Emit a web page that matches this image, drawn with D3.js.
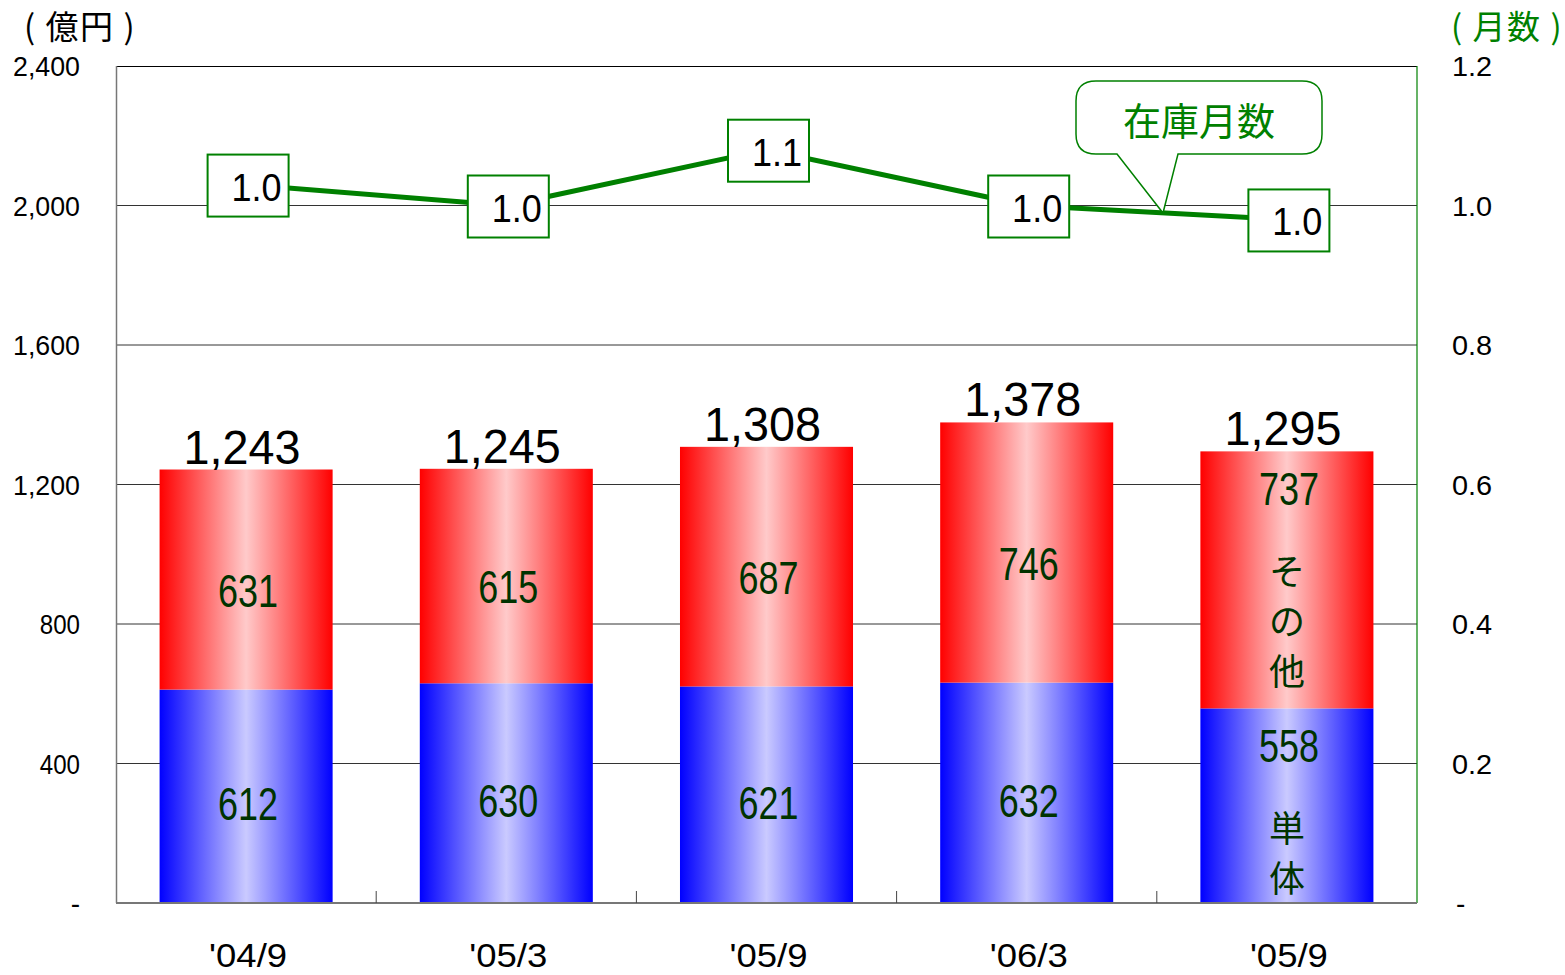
<!DOCTYPE html>
<html>
<head>
<meta charset="utf-8">
<script src="https://cdn.jsdelivr.net/npm/d3@7"></script>
<style>
  body { margin: 0; background: #fff; }
  svg { display: block; }
</style>
</head>
<body>
<div id="chart"></div>
<script>
// chart data
const categories = ["'04/9", "'05/3", "'05/9", "'06/3", "'05/9"];
const tantai = [612, 630, 621, 632, 558];      // 単体 (blue)
const sonota = [631, 615, 687, 746, 737];      // その他 (red)
const totals = [1243, 1245, 1308, 1378, 1295];
const months = [1.03, 1.00, 1.08, 1.00, 0.98]; // 在庫月数 (line)
const monthLabels = ["1.0", "1.0", "1.1", "1.0", "1.0"];
const leftTicks = [0, 400, 800, 1200, 1600, 2000, 2400];
const leftTickLabels = ["-", "400", "800", "1,200", "1,600", "2,000", "2,400"];
const rightTicks = [0, 0.2, 0.4, 0.6, 0.8, 1.0, 1.2];
const rightTickLabels = ["-", "0.2", "0.4", "0.6", "0.8", "1.0", "1.2"];

//canvas settings
const width = 1565;
const height = 975;
const plot = {left: 116, right: 1417, top: 66, bottom: 903};

const numFont = "'Liberation Sans', Arial, sans-serif";
const jpFont = "'Noto Sans CJK JP', 'Noto Sans', sans-serif";
const green = "#008000";
const darkGreen = "#003300";

const svg = d3.select("#chart")
  .append("svg")
  .attr("width", width)
  .attr("height", height);

//narrow half-width look: squeeze each label to a fixed width per character
function squeeze(sel, perChar) {
  sel.each(function() {
    const t = d3.select(this).text();
    if (t.length > 1) {
      d3.select(this)
        .attr("textLength", t.length * perChar)
        .attr("lengthAdjust", "spacingAndGlyphs");
    }
  });
}

//scales
const x = d3.scaleBand()
  .domain(d3.range(categories.length))
  .range([plot.left, plot.right])
  .paddingInner(0.335)
  .paddingOuter(0.1675);
const step = x.step();

const yL = d3.scaleLinear().domain([0, 2400]).range([plot.bottom, plot.top]);
const yR = d3.scaleLinear().domain([0, 1.2]).range([plot.bottom, plot.top]);

//gradients for the bars
const defs = svg.append("defs");
function addGradient(id, edge, mid) {
  const g = defs.append("linearGradient")
    .attr("id", id)
    .attr("x1", "0%").attr("x2", "100%")
    .attr("y1", "0%").attr("y2", "0%");
  g.append("stop").attr("offset", "0%").attr("stop-color", edge);
  g.append("stop").attr("offset", "50%").attr("stop-color", mid);
  g.append("stop").attr("offset", "100%").attr("stop-color", edge);
}
addGradient("redGrad", "#ff0000", "#ffcaca");
addGradient("blueGrad", "#0000ff", "#cacaff");

// --------------------
// GRID + AXES
// --------------------
svg.selectAll(".grid")
  .data(leftTicks.filter(d => d > 0 && d < 2400))
  .enter()
  .append("line")
  .attr("class", "grid")
  .attr("x1", plot.left).attr("x2", plot.right)
  .attr("y1", d => yL(d)).attr("y2", d => yL(d))
  .attr("stroke", "#333")
  .attr("stroke-width", 1);

//top border
svg.append("line")
  .attr("x1", plot.left).attr("x2", plot.right)
  .attr("y1", plot.top + 0.5).attr("y2", plot.top + 0.5)
  .attr("stroke", "#000");

//left axis line
svg.append("line")
  .attr("x1", plot.left + 0.5).attr("x2", plot.left + 0.5)
  .attr("y1", plot.top).attr("y2", plot.bottom)
  .attr("stroke", "#777")
  .attr("stroke-width", 1.5);

//right axis (green)
svg.append("line")
  .attr("x1", plot.right).attr("x2", plot.right)
  .attr("y1", plot.top).attr("y2", plot.bottom)
  .attr("stroke", green)
  .attr("stroke-width", 1.2);

//left tick labels
svg.selectAll(".lt")
  .data(leftTicks)
  .enter()
  .append("text")
  .attr("class", "lt")
  .attr("x", 80)
  .attr("y", d => yL(d) + 10)
  .attr("text-anchor", "end")
  .attr("font-family", numFont)
  .attr("font-size", "28px")
  .attr("fill", "#000")
  .text((d, i) => leftTickLabels[i])
  .call(squeeze, 13.4);

//right tick labels
svg.selectAll(".rt")
  .data(rightTicks)
  .enter()
  .append("text")
  .attr("class", "rt")
  .attr("x", d => d === 0 ? 1456 : 1452)
  .attr("y", d => yR(d) + 10)
  .attr("font-family", numFont)
  .attr("font-size", "28px")
  .attr("fill", "#000")
  .text((d, i) => rightTickLabels[i])
  .call(squeeze, 13.4);

//axis titles
svg.append("text")
  .attr("x", 24).attr("y", 39)
  .attr("font-family", jpFont)
  .attr("font-size", "33px")
  .attr("letter-spacing", "1.5px")
  .attr("fill", "#000")
  .text("( 億円 )");

svg.append("text")
  .attr("x", 1451).attr("y", 39)
  .attr("font-family", jpFont)
  .attr("font-size", "33px")
  .attr("letter-spacing", "1.5px")
  .attr("fill", green)
  .text("( 月数 )");

// --------------------
// BARS
// --------------------
svg.selectAll(".blueBar")
  .data(tantai)
  .enter()
  .append("rect")
  .attr("class", "blueBar")
  .attr("x", (d, i) => x(i))
  .attr("y", d => yL(d))
  .attr("width", x.bandwidth())
  .attr("height", d => yL(0) - yL(d))
  .attr("fill", "url(#blueGrad)");

svg.selectAll(".redBar")
  .data(sonota)
  .enter()
  .append("rect")
  .attr("class", "redBar")
  .attr("x", (d, i) => x(i))
  .attr("y", (d, i) => yL(tantai[i] + d))
  .attr("width", x.bandwidth())
  .attr("height", (d, i) => yL(tantai[i]) - yL(tantai[i] + d))
  .attr("fill", "url(#redGrad)");

//bottom axis line
svg.append("line")
  .attr("x1", plot.left).attr("x2", plot.right)
  .attr("y1", plot.bottom).attr("y2", plot.bottom)
  .attr("stroke", "#777")
  .attr("stroke-width", 2);

//category ticks (inside, between categories)
svg.selectAll(".ct")
  .data(d3.range(1, categories.length))
  .enter()
  .append("line")
  .attr("class", "ct")
  .attr("x1", d => plot.left + d * step).attr("x2", d => plot.left + d * step)
  .attr("y1", plot.bottom).attr("y2", plot.bottom - 12)
  .attr("stroke", "#444");

//category labels
svg.selectAll(".cat")
  .data(categories)
  .enter()
  .append("text")
  .attr("class", "cat")
  .attr("x", (d, i) => x(i) + x.bandwidth() / 2 + 2)
  .attr("y", 967)
  .attr("text-anchor", "middle")
  .attr("font-family", numFont)
  .attr("font-size", "34px")
  .attr("fill", "#000")
  .text(d => d)
  .call(squeeze, 15.6);

//totals above bars
svg.selectAll(".tot")
  .data(totals)
  .enter()
  .append("text")
  .attr("class", "tot")
  .attr("x", (d, i) => x(i) + x.bandwidth() / 2 - 4)
  .attr("y", d => yL(d) - 6)
  .attr("text-anchor", "middle")
  .attr("font-family", numFont)
  .attr("font-size", "49px")
  .attr("fill", "#000")
  .text(d => d3.format(",")(d))
  .call(squeeze, 23.4);

//segment labels
const last = categories.length - 1;
svg.selectAll(".blueLab")
  .data(tantai)
  .enter()
  .append("text")
  .attr("class", "blueLab")
  .attr("x", (d, i) => x(i) + x.bandwidth() / 2 + 2)
  .attr("y", (d, i) => i === last ? yL(d) + 54 : yL(d / 2) + 24)
  .attr("text-anchor", "middle")
  .attr("font-family", numFont)
  .attr("font-size", "46px")
  .attr("fill", darkGreen)
  .text(d => d)
  .call(squeeze, 20);

svg.selectAll(".redLab")
  .data(sonota)
  .enter()
  .append("text")
  .attr("class", "redLab")
  .attr("x", (d, i) => x(i) + x.bandwidth() / 2 + 2)
  .attr("y", (d, i) => i === last ? yL(tantai[i] + d) + 54 : yL(tantai[i] + d / 2) + 27)
  .attr("text-anchor", "middle")
  .attr("font-family", numFont)
  .attr("font-size", "46px")
  .attr("fill", darkGreen)
  .text(d => d)
  .call(squeeze, 20);

//vertical series names on the last bar
const lastCx = x(last) + x.bandwidth() / 2;
function vertical(chars, yStart) {
  svg.append("g").selectAll("text")
    .data(chars)
    .enter()
    .append("text")
    .attr("x", lastCx)
    .attr("y", (d, i) => yStart + i * 50)
    .attr("text-anchor", "middle")
    .attr("dominant-baseline", "central")
    .attr("font-family", jpFont)
    .attr("font-size", "36px")
    .attr("fill", darkGreen)
    .text(d => d);
}
vertical(["そ", "の", "他"], yL(tantai[last] + sonota[last]) + 118);
vertical(["単", "体"], yL(tantai[last]) + 118);

// --------------------
// LINE (在庫月数)
// --------------------
const cx = i => x(i) + x.bandwidth() / 2;

svg.append("path")
  .datum(months)
  .attr("d", d3.line().x((d, i) => cx(i)).y(d => yR(d)))
  .attr("fill", "none")
  .attr("stroke", green)
  .attr("stroke-width", 5);

//callout bubble
const bub = {x0: 1076, x1: 1322, y0: 81, y1: 154, r: 20};
const tail = {a: 1117, b: 1178, tipX: 1163, tipY: 213};
const p = d3.path();
p.moveTo(bub.x0 + bub.r, bub.y0);
p.lineTo(bub.x1 - bub.r, bub.y0);
p.quadraticCurveTo(bub.x1, bub.y0, bub.x1, bub.y0 + bub.r);
p.lineTo(bub.x1, bub.y1 - bub.r);
p.quadraticCurveTo(bub.x1, bub.y1, bub.x1 - bub.r, bub.y1);
p.lineTo(tail.b, bub.y1);
p.lineTo(tail.tipX, tail.tipY);
p.lineTo(tail.a, bub.y1);
p.lineTo(bub.x0 + bub.r, bub.y1);
p.quadraticCurveTo(bub.x0, bub.y1, bub.x0, bub.y1 - bub.r);
p.lineTo(bub.x0, bub.y0 + bub.r);
p.quadraticCurveTo(bub.x0, bub.y0, bub.x0 + bub.r, bub.y0);
p.closePath();

svg.append("path")
  .attr("d", p.toString())
  .attr("fill", "#fff")
  .attr("stroke", green)
  .attr("stroke-width", 1.5);

svg.append("text")
  .attr("x", (bub.x0 + bub.x1) / 2)
  .attr("y", 135)
  .attr("text-anchor", "middle")
  .attr("font-family", jpFont)
  .attr("font-size", "38px")
  .attr("fill", green)
  .text("在庫月数");

//value boxes on the line
const boxW = 81, boxH = 62;
const boxes = svg.selectAll(".mbox")
  .data(months)
  .enter()
  .append("g")
  .attr("class", "mbox")
  .attr("transform", (d, i) => `translate(${cx(i) + 2},${yR(d) + 1})`);

boxes.append("rect")
  .attr("x", -boxW / 2)
  .attr("y", -boxH / 2)
  .attr("width", boxW)
  .attr("height", boxH)
  .attr("fill", "#fff")
  .attr("stroke", green)
  .attr("stroke-width", 2);

boxes.append("text")
  .attr("x", boxW / 2 - 7)
  .attr("y", 15)
  .attr("text-anchor", "end")
  .attr("font-family", numFont)
  .attr("font-size", "38px")
  .attr("fill", "#000")
  .text((d, i) => monthLabels[i])
  .call(squeeze, 16.7);
</script>
</body>
</html>
